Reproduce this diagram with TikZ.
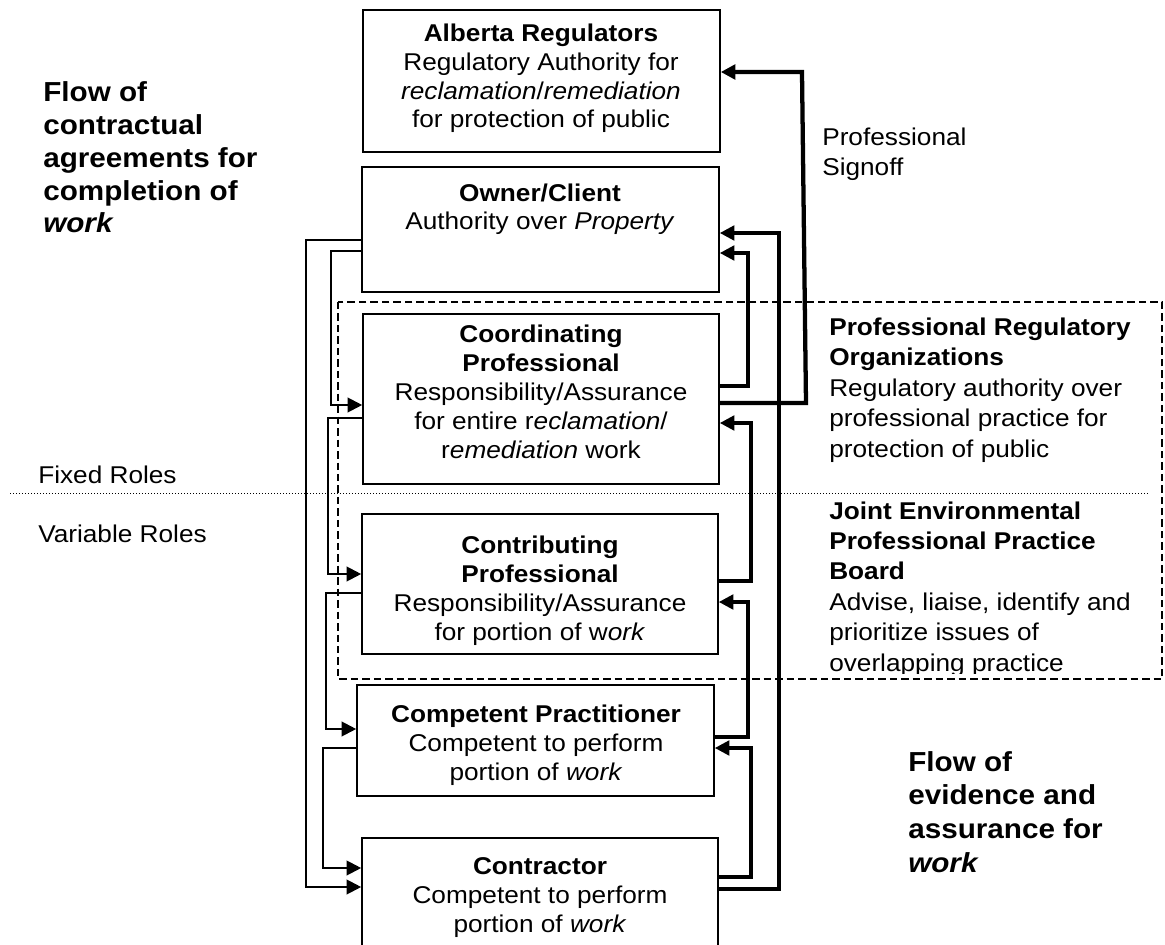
\documentclass[tikz,border=0pt]{standalone}
\usepackage{fontspec}
\setmainfont{Liberation Sans}[FakeStretch=1.08]
\usetikzlibrary{arrows.meta,fit}
\begin{document}
\begin{tikzpicture}[x=0.75pt,y=-0.75pt,
  box/.style={draw, line width=1.2pt, inner sep=0pt},
  boxtext/.style={anchor=base, align=center, inner sep=0pt, font=\fontsize{18.2}{21.6}\selectfont},
  sidetext/.style={anchor=base west, align=left, inner sep=0pt, font=\fontsize{18.2}{22.8}\selectfont},
  flowtext/.style={anchor=base west, align=left, inner sep=0pt, font=\bfseries\fontsize{20.6}{24.6}\selectfont},
  lconn/.style={line width=1.6pt, -{Triangle[length=11pt,width=11pt]}},
  rconn/.style={line width=2.5pt, -{Triangle[length=11pt,width=11pt]}},
  signoff/.style={line width=3.2pt, -{Triangle[length=11pt,width=11pt]}},
  dashbox/.style={line width=1.1pt, dash pattern=on 5.6pt off 3pt},
  dotline/.style={line width=0.75pt, dash pattern=on 0.75pt off 1.5pt}
]
\useasboundingbox (0,0) rectangle (1165,945);
\clip (0,0) rectangle (1165,945);

% dashed region and dotted divider
\draw[dashbox] (338,302) rectangle (1162,679);
\coordinate (dotL) at (10,493);
\coordinate (dotR) at (1148,493);
\draw[dotline] (dotL) -- (dotR);

% boxes
\node[box, fit={(363,10) (720,152)}] (ar) {};
\node[box, fit={(362,167) (719,292)}] (oc) {};
\node[box, fit={(363,314) (719,484)}] (cop) {};
\node[box, fit={(362,514) (718,654)}] (ctp) {};
\node[box, fit={(357,685) (714,796)}] (cp) {};
\node[box, fit={(362,838) (718,965)}] (ct) {};

% box texts (anchored at the baseline of the last line)
\node[boxtext] (ar-t) at (541,128) {\textbf{Alberta Regulators}\\Regulatory Authority for\\\textit{reclamation}/\textit{remediation}\\for protection of public};
\node[boxtext] (oc-t) at (540,230) {\textbf{Owner/Client}\\Authority over \textit{Property}};
\node[boxtext] (cop-t) at (541,458) {\textbf{Coordinating}\\\textbf{Professional}\\Responsibility/Assurance\\for entire r\textit{eclamation}/\\r\textit{emediation} work};
\node[boxtext] (ctp-t) at (540,640) {\textbf{Contributing}\\\textbf{Professional}\\Responsibility/Assurance\\for portion of w\textit{ork}};
\node[boxtext] (cp-t) at (536,780) {\textbf{Competent Practitioner}\\Competent to perform\\portion of \textit{work}};
\node[boxtext] (ct-t) at (540,932) {\textbf{Contractor}\\Competent to perform\\portion of \textit{work}};

% side texts
\node[sidetext] (signoff-t) at (822,176) {Professional\\Signoff};
\node[sidetext] (pro-t) at (829,457) {\textbf{Professional Regulatory}\\\textbf{Organizations}\\Regulatory authority over\\professional practice for\\protection of public};
\begin{scope}
\clip (800,500) rectangle (1160,673);
\node[sidetext] (jep-t) at (829,671) {\textbf{Joint Environmental}\\\textbf{Professional Practice}\\\textbf{Board}\\Advise, liaise, identify and\\prioritize issues of\\overlapping practice};
\end{scope}
\node[sidetext] (fixed-t) at (38,483) {Fixed Roles};
\node[sidetext] (var-t) at (38,542) {Variable Roles};
\node[flowtext] (flowL) at (43,233) {Flow of\\contractual\\agreements for\\completion of\\\textit{work}};
\node[flowtext, font=\bfseries\fontsize{20.6}{25.2}\selectfont] (flowR) at (908,872) {Flow of\\evidence and\\assurance for\\\textit{work}};

% left connectors (contractual agreements)
\draw[lconn] (oc.west |- 0,240) -- (306,240) -- (306,887) -- (ct.west |- 0,887);
\draw[lconn] (oc.west |- 0,251) -- (331,251) -- (331,405) -- (cop.west |- 0,405);
\draw[lconn] (cop.west |- 0,418) -- (328,418) -- (328,574) -- (ctp.west |- 0,574);
\draw[lconn] (ctp.west |- 0,593) -- (326,593) -- (326,729) -- (cp.west |- 0,729);
\draw[lconn] (cp.west |- 0,748) -- (323,748) -- (323,868) -- (ct.west |- 0,868);

% right connectors (evidence and assurance)
\draw[signoff] (cop.east |- 0,403) -- (806,403) -- (802,72) -- (ar.east |- 0,72);
\draw[rconn] (ct.east |- 0,889) -- (779,889) -- (779,233) -- (oc.east |- 0,233);
\draw[rconn] (cop.east |- 0,386) -- (748,386) -- (748,253) -- (oc.east |- 0,253);
\draw[rconn] (ctp.east |- 0,581) -- (751,581) -- (751,423) -- (cop.east |- 0,423);
\draw[rconn] (cp.east |- 0,737) -- (748,737) -- (748,602) -- (ctp.east |- 0,602);
\draw[rconn] (ct.east |- 0,877) -- (751,877) -- (751,748) -- (cp.east |- 0,748);
\end{tikzpicture}
\end{document}
